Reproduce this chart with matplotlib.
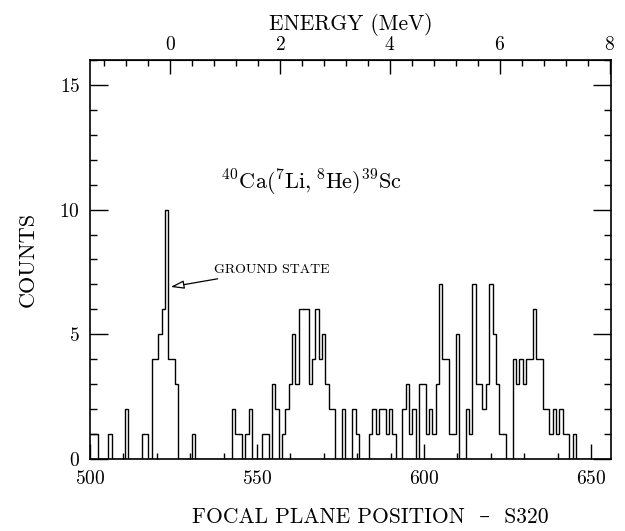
import numpy as np
import matplotlib
matplotlib.use("Agg")
import matplotlib.pyplot as plt
from matplotlib.ticker import MultipleLocator, FixedLocator

plt.rcParams["font.family"] = ["cmr10", "DejaVu Serif"]
plt.rcParams["mathtext.fontset"] = "cm"
plt.rcParams["axes.formatter.use_mathtext"] = True

# channel counts, one per channel starting at 500
first_channel = 500
counts = [
    1, 1, 1, 0, 0, 0, 1, 0, 0, 0,   # 500-509
    0, 2, 0, 0, 0, 0, 1, 1, 0, 4,   # 510-519
    4, 5, 6, 10, 4, 4, 3, 0, 0, 0,  # 520-529
    0, 1, 0, 0, 0, 0, 0, 0, 0, 0,   # 530-539
    0, 0, 0, 2, 1, 1, 0, 1, 2, 0,   # 540-549
    0, 0, 1, 1, 0, 3, 2, 0, 1, 2,   # 550-559
    3, 5, 3, 6, 6, 6, 3, 4, 6, 4,   # 560-569
    5, 3, 2, 2, 0, 0, 2, 0, 0, 2,   # 570-579
    1, 0, 0, 0, 1, 2, 1, 2, 2, 1,   # 580-589
    2, 1, 0, 0, 2, 3, 1, 2, 0, 3,   # 590-599
    3, 1, 2, 1, 3, 7, 4, 4, 1, 1,   # 600-609
    5, 0, 0, 2, 1, 7, 3, 3, 2, 3,   # 610-619
    7, 5, 3, 1, 1, 0, 0, 4, 3, 4,   # 620-629
    3, 4, 4, 6, 4, 4, 2, 2, 1, 2,   # 630-639
    1, 2, 1, 1, 0, 1, 0, 0, 0, 0,   # 640-649
    0, 0, 0, 0, 0, 0,               # 650-655
]

# energy calibration (channel of 0 MeV, channels per MeV)
e0_channel = 524.0
ch_per_mev = 16.45

reaction = r"$^{40}\mathrm{Ca}(^{7}\mathrm{Li},^{8}\mathrm{He})^{39}\mathrm{Sc}$"

edges = first_channel - 0.5 + np.arange(len(counts) + 1)

fig = plt.figure(figsize=(6.25, 5.31), dpi=100)
ax = fig.add_axes([0.1438, 0.1356, 0.834, 0.7514])

ax.stairs(counts, edges, color="black", linewidth=1.0)

ax.set_xlim(500, 656)
ax.set_ylim(0, 16)

ax.xaxis.set_major_locator(FixedLocator([500, 550, 600, 650]))
ax.xaxis.set_minor_locator(MultipleLocator(10))
ax.yaxis.set_major_locator(FixedLocator([0, 5, 10, 15]))
ax.yaxis.set_minor_locator(MultipleLocator(1))
ax.tick_params(which="both", direction="in", right=True, top=False, width=1.0,
               labelsize=14)
ax.tick_params(axis="y", which="major", length=13, pad=7)
ax.tick_params(axis="y", which="minor", length=4.8)
ax.tick_params(axis="x", which="major", length=11, pad=8)
ax.tick_params(axis="x", which="minor", length=4)

for s in ax.spines.values():
    s.set_linewidth(1.2)

ax.set_ylabel("COUNTS", fontsize=16, labelpad=16)

fig.text(370 / 625, 1 - 517 / 531, "FOCAL PLANE POSITION  \u2013  S320",
         fontsize=15.5, ha="center", va="center")

top = ax.secondary_xaxis(
    "top",
    functions=(lambda c: (c - e0_channel) / ch_per_mev,
               lambda e: e0_channel + e * ch_per_mev),
)
top.xaxis.set_major_locator(FixedLocator([0, 2, 4, 6, 8]))
top.xaxis.set_minor_locator(FixedLocator(np.arange(-1.2, 8.01, 0.4)))
top.tick_params(which="both", direction="in", width=1.0, labelsize=14, pad=4)
top.tick_params(which="major", length=10)
top.tick_params(which="minor", length=4.5)
top.set_xlabel("ENERGY (MeV)", fontsize=15.5, labelpad=5)

ax.text(0.426, 0.692, reaction, transform=ax.transAxes, ha="center",
        va="center", fontsize=16)

ax.annotate("GROUND STATE", xy=(524.2, 6.9), xytext=(537, 7.6),
            fontsize=10, va="center", ha="left",
            arrowprops=dict(arrowstyle="-|>,head_length=0.8,head_width=0.25",
                            fc="white", ec="black", lw=0.9,
                            shrinkA=2, shrinkB=0))

fig.savefig("out.png", dpi=100)
